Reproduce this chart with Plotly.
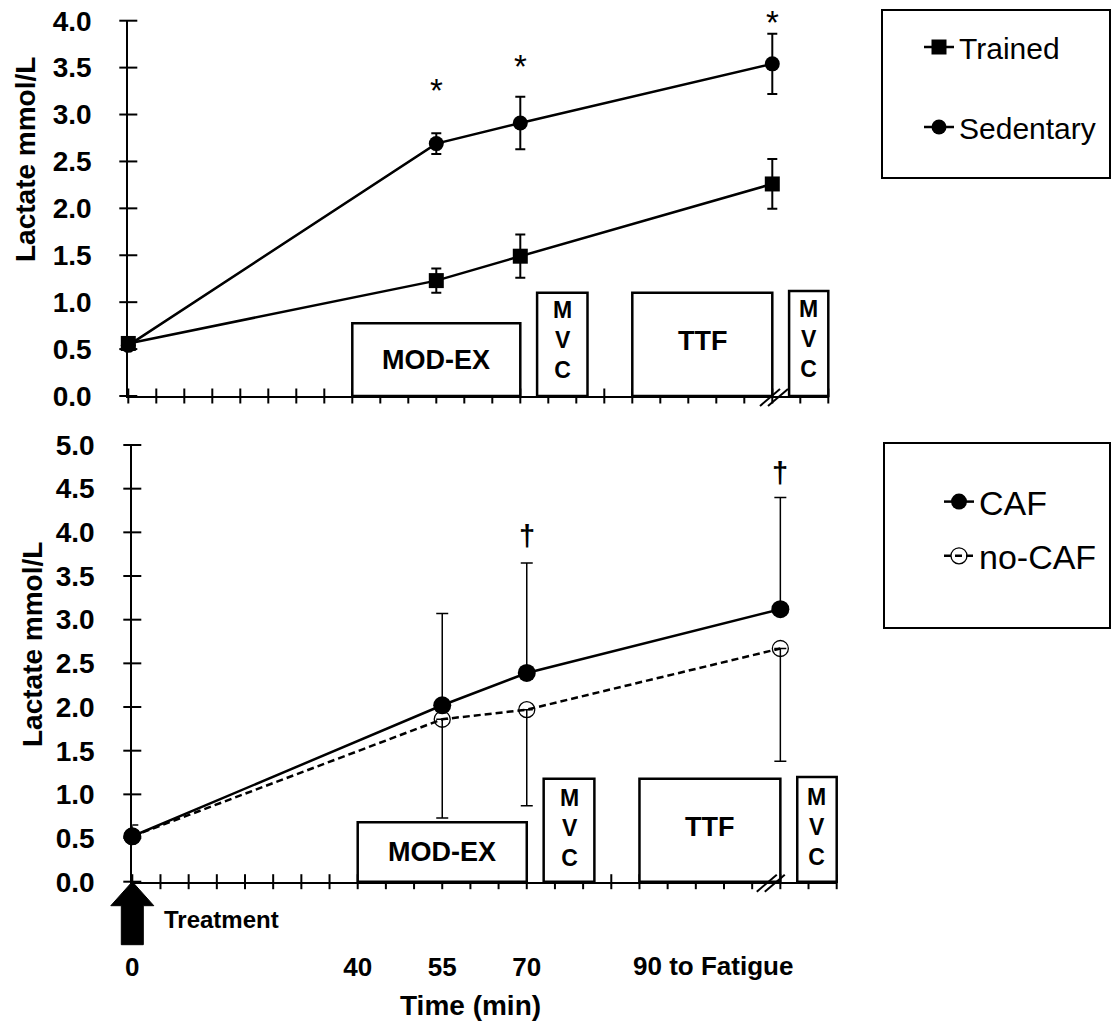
import plotly.graph_objects as go

W, H = 1112, 1026
FONT = "Liberation Sans, Arial, sans-serif"


def px_x(r):
    return r / W


def px_y(r):
    return 1 - r / H


# ---------------- data ----------------
time_min = [0, 55, 70, 115]

trained = [0.56, 1.23, 1.49, 2.26]
trained_err = [0.0, 0.13, 0.23, 0.265]
sedentary = [0.54, 2.69, 2.91, 3.54]
sedentary_err = [0.0, 0.11, 0.28, 0.32]

caf = [0.52, 2.02, 2.39, 3.12]
caf_err_plus = [0.13, 1.05, 1.26, 1.28]
nocaf = [0.52, 1.86, 1.97, 2.67]
nocaf_err_minus = [0.0, 1.13, 1.10, 1.29]

sig_top_x = [55, 70, 115]
sig_top_y = [3.30, 3.55, 4.02]
sig_bot_x = [70, 115]
sig_bot_y = [3.96, 4.68]

phase_labels = ["MOD-EX", "MVC", "TTF", "MVC"]
phase_start = [40, 73, 90, 118]
phase_end = [70, 82, 115, 125]
phase_top_h = [0.775, 1.10, 1.10, 1.12]
phase_bot_h = [0.68, 1.18, 1.18, 1.20]

x_minor_ticks = list(range(0, 126, 5))
x_label_vals = [0, 40, 55, 70]
x_label_text = ["0", "40", "55", "70"]
fatigue_label = "90 to Fatigue"
fatigue_label_x = 90

y_top_ticks = [0.0, 0.5, 1.0, 1.5, 2.0, 2.5, 3.0, 3.5, 4.0]
y_bot_ticks = [0.0, 0.5, 1.0, 1.5, 2.0, 2.5, 3.0, 3.5, 4.0, 4.5, 5.0]

X_MAX = 125
Y_TOP_MAX = 4.0
Y_BOT_MAX = 5.0

fig = go.Figure()

# ---------------- traces ----------------
fig.add_trace(go.Scatter(
    x=time_min, y=trained, name="Trained", mode="lines+markers",
    line=dict(color="black", width=2.5),
    marker=dict(symbol="square", size=15, color="black"),
    error_y=dict(type="data", array=trained_err, color="black", thickness=2, width=5),
    xaxis="x", yaxis="y", legend="legend", legendgroup="a", cliponaxis=False))
fig.add_trace(go.Scatter(
    x=time_min, y=sedentary, name="Sedentary", mode="lines+markers",
    line=dict(color="black", width=2.5),
    marker=dict(symbol="circle", size=15, color="black"),
    error_y=dict(type="data", array=sedentary_err, color="black", thickness=2, width=5),
    xaxis="x", yaxis="y", legend="legend", legendgroup="b", cliponaxis=False))

fig.add_trace(go.Scatter(
    x=time_min, y=caf, name="CAF", mode="lines+markers",
    line=dict(color="black", width=2.5),
    marker=dict(symbol="circle", size=18, color="black"),
    error_y=dict(type="data", symmetric=False, array=caf_err_plus,
                 arrayminus=[0] * len(caf), color="black", thickness=1.5, width=6),
    xaxis="x2", yaxis="y2", legend="legend2", legendgroup="c", cliponaxis=False))
fig.add_trace(go.Scatter(
    x=time_min, y=nocaf, name="no-CAF", mode="lines+markers",
    line=dict(color="black", width=2.5, dash="7px,4px"),
    marker=dict(symbol="circle-open", size=16, color="black", line=dict(width=1.3)),
    error_y=dict(type="data", symmetric=False, array=[0] * len(nocaf),
                 arrayminus=nocaf_err_minus, color="black", thickness=1.5, width=6),
    xaxis="x2", yaxis="y2", legend="legend2", legendgroup="d", cliponaxis=False))

# ---------------- shapes / annotations ----------------
shapes = []
annotations = []

panels = [
    dict(xa="x", ya="y", ymax=Y_TOP_MAX, yticks=y_top_ticks, heights=phase_top_h,
         brk=115.3, mvc_shift=4),
    dict(xa="x2", ya="y2", ymax=Y_BOT_MAX, yticks=y_bot_ticks, heights=phase_bot_h,
         brk=113.3, mvc_shift=2),
]

BOX_FONT = dict(family=FONT, size=27, color="black", weight="bold")
MVC_FONT = dict(family=FONT, size=23, color="black", weight="bold")

for p in panels:
    xd, yd = p["xa"] + " domain", p["ya"] + " domain"
    # crossing y ticks
    for v in p["yticks"]:
        shapes.append(dict(type="line", xref=xd, yref=yd, xsizemode="pixel", xanchor=0,
                           x0=-9, x1=9, y0=v / p["ymax"], y1=v / p["ymax"],
                           line=dict(color="black", width=2), layer="above"))
    # crossing x ticks
    for v in x_minor_ticks:
        shapes.append(dict(type="line", xref=xd, yref=yd, ysizemode="pixel", yanchor=0,
                           y0=-7.5, y1=7.5, x0=v / X_MAX, x1=v / X_MAX,
                           line=dict(color="black", width=2), layer="above"))
    # phase boxes
    for lab, s, e, h in zip(phase_labels, phase_start, phase_end, p["heights"]):
        shapes.append(dict(type="rect", xref=xd, yref=yd, x0=s / X_MAX, x1=e / X_MAX,
                           y0=0, y1=h / p["ymax"], fillcolor="white",
                           line=dict(color="black", width=2.5), layer="above"))
        cx = (s + e) / 2
        if lab == "MVC":
            annotations.append(dict(x=cx, y=h / 2, xref=p["xa"], yref=p["ya"],
                                    text="<br>".join(lab), showarrow=False,
                                    yshift=p["mvc_shift"], font=MVC_FONT))
        else:
            annotations.append(dict(x=cx, y=h / 2, xref=p["xa"], yref=p["ya"], text=lab,
                                    showarrow=False, yshift=3 if lab == "TTF" else 0,
                                    font=BOX_FONT))
    # axis break marks
    for dx in (-4, 4):
        shapes.append(dict(type="line", xref=xd, yref=yd, xsizemode="pixel", ysizemode="pixel",
                           xanchor=p["brk"] / X_MAX, yanchor=0,
                           x0=dx - 10, y0=-10, x1=dx + 10, y1=7,
                           line=dict(color="black", width=2), layer="above"))

# treatment arrow under bottom axis at time 0
shapes.append(dict(type="path", xref="x2 domain", yref="y2 domain", xsizemode="pixel",
                   ysizemode="pixel", xanchor=0, yanchor=0,
                   path="M0,0 L21.5,-24 L11,-24 L11,-63 L-11,-63 L-11,-24 L-21.5,-24 Z",
                   fillcolor="black", line=dict(color="black", width=1), layer="above"))

# legend frames
shapes.append(dict(type="rect", xref="paper", yref="paper", x0=px_x(882), x1=px_x(1110),
                   y0=px_y(178), y1=px_y(10), line=dict(color="black", width=2)))
shapes.append(dict(type="rect", xref="paper", yref="paper", x0=px_x(884), x1=px_x(1110),
                   y0=px_y(628), y1=px_y(443), line=dict(color="black", width=2)))

# significance marks
for sx, sy in zip(sig_top_x, sig_top_y):
    annotations.append(dict(x=sx, y=sy / Y_TOP_MAX, xref="x", yref="y domain", text="*",
                            showarrow=False, yanchor="middle", xanchor="center", yshift=-4,
                            font=dict(family=FONT, size=33, color="black")))
for sx, sy in zip(sig_bot_x, sig_bot_y):
    annotations.append(dict(x=sx, y=sy / Y_BOT_MAX, xref="x2", yref="y2 domain", text="†",
                            showarrow=False, yanchor="middle", xanchor="center",
                            font=dict(family=FONT, size=29, color="black", weight="bold")))

# y-axis titles
annotations.append(dict(x=px_x(25), y=px_y(160), xref="paper", yref="paper",
                        xanchor="center", yanchor="middle",
                        text="Lactate mmol/L", textangle=-90, showarrow=False,
                        font=dict(family=FONT, size=28, color="black", weight="bold")))
annotations.append(dict(x=px_x(32), y=px_y(645), xref="paper", yref="paper",
                        xanchor="center", yanchor="middle",
                        text="Lactate mmol/L", textangle=-90, showarrow=False,
                        font=dict(family=FONT, size=28, color="black", weight="bold")))
# x labels
annotations.append(dict(x=fatigue_label_x, y=0, xref="x2", yref="y2", text=fatigue_label,
                        xanchor="left", yanchor="middle", yshift=-84, xshift=-8, showarrow=False,
                        font=dict(family=FONT, size=26, color="black", weight="bold")))
annotations.append(dict(x=0, y=0, xref="x2", yref="y2", text="Treatment",
                        xanchor="left", yanchor="middle", yshift=-38, xshift=30, showarrow=False,
                        font=dict(family=FONT, size=24, color="black", weight="bold")))
annotations.append(dict(x=px_x(470), y=px_y(1005), xref="paper", yref="paper", text="Time (min)",
                        xanchor="center", yanchor="middle", showarrow=False,
                        font=dict(family=FONT, size=28, color="black", weight="bold")))

axis_common = dict(showline=True, linecolor="black", linewidth=2, showgrid=False,
                   zeroline=False, ticks="", automargin=False)

fig.update_layout(
    width=W, height=H, autosize=False,
    margin=dict(l=0, r=0, t=0, b=0, pad=0, autoexpand=False),
    paper_bgcolor="white", plot_bgcolor="white",
    xaxis=dict(domain=[px_x(128.3), px_x(828.3)], range=[0, X_MAX], showticklabels=False,
               anchor="y", **axis_common),
    yaxis=dict(domain=[px_y(396), px_y(20.7)], range=[0, Y_TOP_MAX], anchor="x",
               tickvals=y_top_ticks, tickformat=".1f", ticklabelstandoff=29,
               ticklabeloverflow="allow",
               tickfont=dict(family=FONT, size=28, color="black", weight="bold"), **axis_common),
    xaxis2=dict(domain=[px_x(132.3), px_x(836.7)], range=[0, X_MAX], anchor="y2",
                tickvals=x_label_vals, ticktext=x_label_text, ticklabelstandoff=61,
                ticklabeloverflow="allow",
                tickfont=dict(family=FONT, size=26, color="black", weight="bold"), **axis_common),
    yaxis2=dict(domain=[px_y(881.7), px_y(445)], range=[0, Y_BOT_MAX], anchor="x2",
                tickvals=y_bot_ticks, tickformat=".1f", ticklabelstandoff=30,
                ticklabeloverflow="allow",
                tickfont=dict(family=FONT, size=28, color="black", weight="bold"), **axis_common),
    legend=dict(x=px_x(919), y=px_y(21), xanchor="left", yanchor="top",
                bgcolor="rgba(0,0,0,0)", borderwidth=0, tracegroupgap=38,
                font=dict(family=FONT, size=30, color="black")),
    legend2=dict(x=px_x(939), y=px_y(473), xanchor="left", yanchor="top",
                 bgcolor="rgba(0,0,0,0)", borderwidth=0, tracegroupgap=7,
                 font=dict(family=FONT, size=34, color="black")),
    shapes=shapes,
    annotations=annotations,
    showlegend=True,
)

# remove the default 8px page margin so the figure sits at the window's origin
fig.write_html("out.html", config={"displayModeBar": False},
               post_script="document.body.style.margin='0px';")
